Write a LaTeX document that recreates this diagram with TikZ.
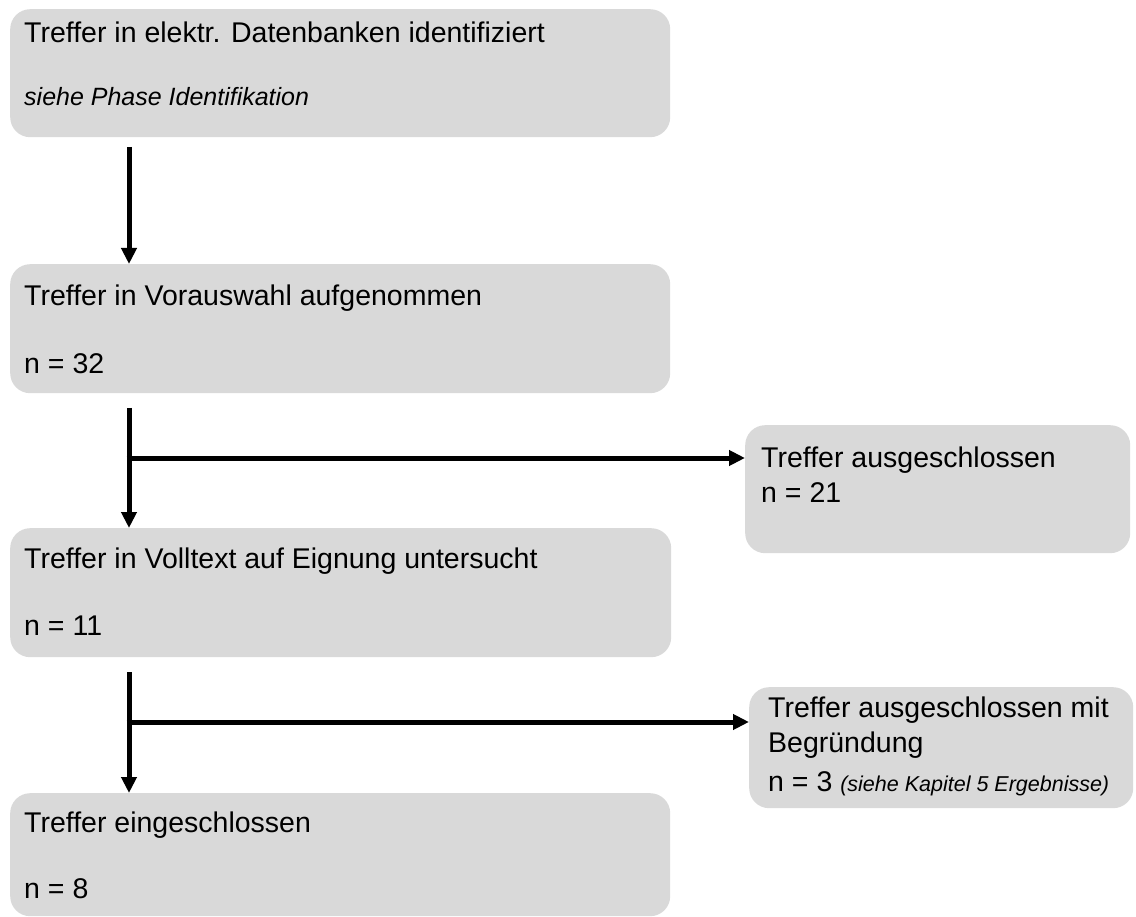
\documentclass[tikz,border=0pt]{standalone}
\usepackage{fontspec}
\setmainfont{Liberation Sans}
\usetikzlibrary{arrows.meta}
\definecolor{boxgray}{RGB}{217,217,217}
\tikzset{
  box/.style={fill=boxgray, rounded corners=20pt, inner sep=0pt, anchor=north west},
  txt/.style={anchor=base west, inner sep=0pt, font=\fontsize{28.5}{34}\selectfont},
  itxt/.style={anchor=base west, inner sep=0pt, font=\fontsize{25}{30}\selectfont\itshape},
  arr/.style={line width=5pt, -{Triangle[width=15pt,length=16pt]}}
}
\begin{document}
\begin{tikzpicture}[x=1pt,y=-1pt]
\useasboundingbox (0,0) rectangle (1136,917);
% boxes
\node[box, minimum width=660pt, minimum height=128pt] (b1) at (10,9) {};
\node[box, minimum width=660pt, minimum height=129pt] (b2) at (10,264) {};
\node[box, minimum width=661pt, minimum height=129pt] (b3) at (10,528) {};
\node[box, minimum width=660pt, minimum height=123pt] (b4) at (10,793) {};
\node[box, minimum width=385pt, minimum height=128pt] (s1) at (745,425) {};
\node[box, minimum width=384pt, minimum height=121pt] (s2) at (749,687) {};
% texts
\node[txt] (t1a) at (24,43) {Treffer in elektr. Datenbanken identifiziert};
\node[itxt] (t1b) at (24,106) {siehe Phase Identifikation};
\node[txt] (t2a) at (24,306) {Treffer in Vorauswahl aufgenommen};
\node[txt] (t2b) at (24,374) {n = 32};
\node[txt] (t3a) at (24,568) {Treffer in Volltext auf Eignung untersucht};
\node[txt] (t3b) at (24,635) {n = 11};
\node[txt] (t4a) at (24,832) {Treffer eingeschlossen};
\node[txt] (t4b) at (24,898) {n = 8};
\node[txt] (s1a) at (761,467) {Treffer ausgeschlossen};
\node[txt] (s1b) at (761,502) {n = 21};
\node[txt] (s2a) at (768,717) {Treffer ausgeschlossen mit};
\node[txt] (s2b) at (768,752) {Begründung};
\node[txt] (s2c) at (768,791) {n = 3 {\fontsize{21.5}{25}\selectfont\itshape (siehe Kapitel 5 Ergebnisse)}};
% connectors
\coordinate (c1) at (129,147);
\coordinate (c2) at (129,408);
\coordinate (c3) at (129,672);
\coordinate (j2) at (129,458);
\coordinate (j3) at (129,722);
\draw[arr] (c1) -- (c1 |- b2.north);
\draw[arr] (c2) -- (c2 |- b3.north);
\draw[arr] (c3) -- (c3 |- b4.north);
\draw[arr] ([xshift=-2.5pt]j2) -- (j2 -| s1.west);
\draw[arr] ([xshift=-2.5pt]j3) -- (j3 -| s2.west);
\end{tikzpicture}
\end{document}
